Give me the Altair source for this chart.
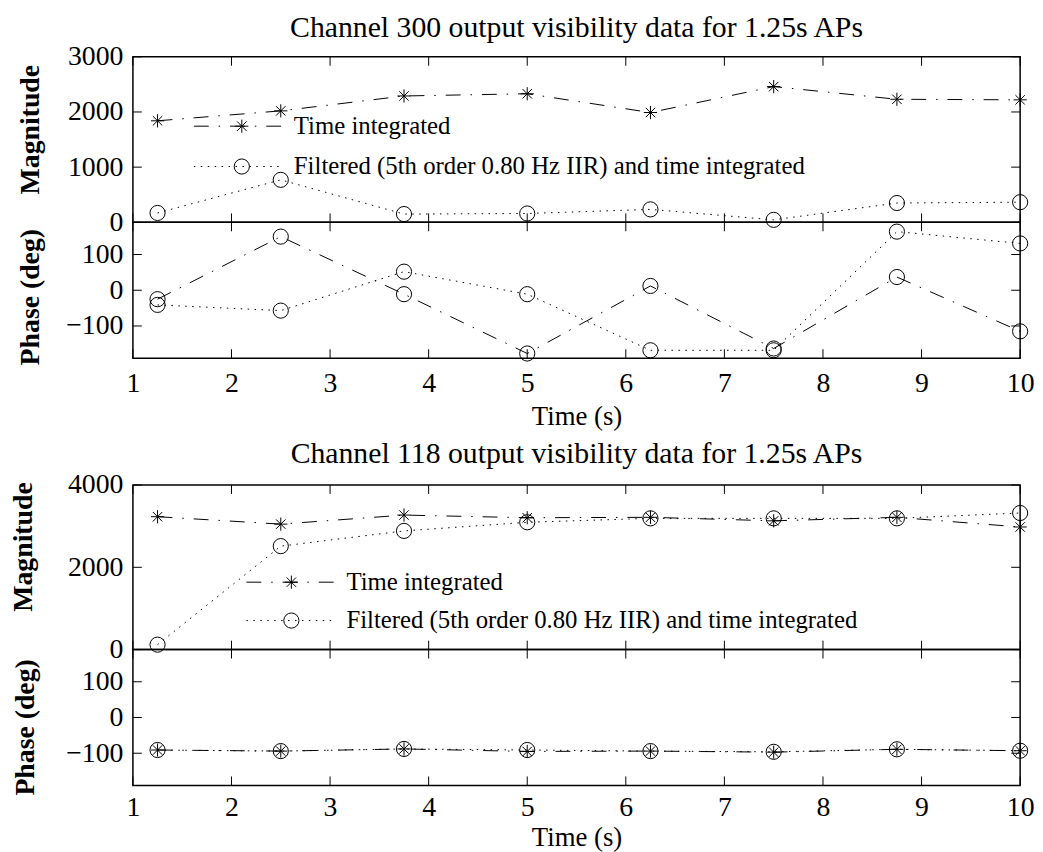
import altair as alt
import pandas as pd

# ---------------- data ----------------
TIME = [1.25, 2.5, 3.75, 5.0, 6.25, 7.5, 8.75, 10.0]
SERIES = ["Time integrated", "Filtered (5th order 0.80 Hz IIR) and time integrated"]
SERIES_KEYS = ["ti", "filt"]
TITLES = ["Channel 300 output visibility data for 1.25s APs",
          "Channel 118 output visibility data for 1.25s APs"]

# Channel 300
C300_MAG_TI = [1840, 2020, 2290, 2330, 1990, 2460, 2230, 2220]
C300_MAG_F = [170, 770, 150, 160, 235, 45, 350, 365]
C300_PH_TI = [-25, 150, -11, -177, 12, -163, 37, -115]
C300_PH_F = [-41, -57, 52, -11, -168, -168, 164, 131]

# Channel 118
C118_MAG_TI = [3230, 3050, 3270, 3205, 3215, 3130, 3215, 2980]
C118_MAG_F = [120, 2515, 2885, 3095, 3190, 3190, 3190, 3320]
C118_PH_TI = [-91, -94, -88, -95, -94, -97, -89, -93]
C118_PH_F = [-91, -94, -88, -91, -94, -96, -89, -93]

X_TICKS = [1, 2, 3, 4, 5, 6, 7, 8, 9, 10]
C300_MAG_TICKS = [0, 1000, 2000, 3000]
C118_MAG_TICKS = [0, 2000, 4000]
PH_TICKS = [-100, 0, 100]

# ---------------- style ----------------
FONT = "Liberation Serif"
W = 895
TL = 9
STAR = ("M-0.87,0L0.87,0M0,-0.87L0,0.87"
        "M-0.62,-0.62L0.62,0.62M-0.62,0.62L0.62,-0.62")
DASHES = [[15, 10, 1.5, 10], [1.5, 5.5]]
MSIZE = 234


def panel(ti, f, shapes, ydom, yticks, ytitle, h, ytx, yty,
          xaxis=None, leg=None, title=None):
    n = len(TIME)
    df = pd.DataFrame({"t": TIME + TIME, "v": ti + f,
                       "k": [SERIES_KEYS[0]] * n + [SERIES_KEYS[1]] * n,
                       "m": [SERIES[0]] * n + [SERIES[1]] * n})
    xs = alt.Scale(domain=[1, 10], nice=False, zero=False)
    ys = alt.Scale(domain=ydom, nice=False, zero=False)
    if xaxis is None:
        X = alt.X("t:Q", scale=xs, axis=None)
    else:
        lp, xty = xaxis
        X = alt.X("t:Q", scale=xs, axis=alt.Axis(
            values=X_TICKS, format="d", ticks=False, domain=False, grid=False,
            labelFont=FONT, labelFontSize=28, labelColor="black",
            labelPadding=lp, labelFlush=False, labelOverlap=False,
            title="Time (s)", titleFont=FONT, titleFontSize=27,
            titleFontWeight="normal", titleColor="black", titleY=xty))
    Y = alt.Y("v:Q", scale=ys, axis=alt.Axis(
        values=yticks, format="d", ticks=False, domain=False, grid=False,
        labelFont=FONT, labelFontSize=28, labelColor="black",
        labelPadding=10, labelOverlap=False, labelFlush=False,
        title=ytitle, titleFont=FONT, titleFontSize=28,
        titleFontWeight="bold", titleColor="black", titleX=ytx, titleY=yty))

    if leg is not None:
        lx, ly, mx, rp, lo = leg
        dash_leg = alt.Legend(
            orient="none", legendX=lx, legendY=ly, title=None,
            direction="vertical", symbolType="stroke", symbolSize=8100,
            symbolStrokeWidth=1, symbolStrokeColor="black", clipHeight=32,
            rowPadding=rp, labelExpr="''", labelFontSize=10, padding=0)
        shape_leg = alt.Legend(
            orient="none", legendX=mx - 7.65, legendY=ly, title=None,
            direction="vertical", symbolSize=MSIZE, symbolStrokeWidth=1,
            symbolStrokeColor="black", symbolFillColor="transparent",
            clipHeight=32, rowPadding=rp,
            labelFont=FONT, labelFontSize=25, labelColor="black",
            labelLimit=1000, labelOffset=lo, padding=0)
    else:
        dash_leg = None
        shape_leg = None

    base = alt.Chart(df)
    lines = base.mark_line(color="black", strokeWidth=1).encode(
        x=X, y=Y,
        strokeDash=alt.StrokeDash("k:N", scale=alt.Scale(domain=SERIES_KEYS, range=DASHES),
                                  legend=dash_leg))
    points = base.mark_point(filled=False, color="black", strokeWidth=1,
                             size=MSIZE, opacity=1).encode(
        x=X, y=Y,
        shape=alt.Shape("m:N", scale=alt.Scale(domain=SERIES, range=shapes),
                        legend=shape_leg))

    xt = alt.Chart(pd.DataFrame({"t": X_TICKS}))
    yt = alt.Chart(pd.DataFrame({"v": yticks}))
    rule = dict(color="black", strokeWidth=1)
    t1 = xt.mark_rule(**rule).encode(x=X, y=alt.value(0), y2=alt.value(TL))
    t2 = xt.mark_rule(**rule).encode(x=X, y=alt.value(h - TL), y2=alt.value(h))
    t3 = yt.mark_rule(**rule).encode(y=Y, x=alt.value(0), x2=alt.value(TL))
    t4 = yt.mark_rule(**rule).encode(y=Y, x=alt.value(W - TL), x2=alt.value(W))

    layer = alt.layer(lines, points, t1, t2, t3, t4).properties(width=W, height=h)
    if title is not None:
        text, off = title
        layer = layer.properties(title=alt.TitleParams(
            text=text, font=FONT, fontSize=30, fontWeight="normal",
            color="black", offset=off, anchor="middle"))
    return layer


def group(a, b):
    return (alt.vconcat(a, b, spacing=0, bounds="flush")
            .resolve_scale(strokeDash="independent", shape="independent")
            .resolve_legend(strokeDash="independent", shape="independent"))


mag1 = panel(C300_MAG_TI, C300_MAG_F, [STAR, "circle"], [0, 3000], C300_MAG_TICKS,
             "Magnitude", 167, -89, 73, leg=(61, 54, 105, 8.7, 40),
             title=(TITLES[0], 0))
ph1 = panel(C300_PH_TI, C300_PH_F, ["circle", "circle"], [-190, 190], PH_TICKS,
            "Phase (deg)", 137, -89, 75, xaxis=(12, 46))
mag2 = panel(C118_MAG_TI, C118_MAG_F, [STAR, "circle"], [0, 4000], C118_MAG_TICKS,
             "Magnitude", 166, -96, 62, leg=(114, 82, 155, 6.7, 43),
             title=(TITLES[1], 2))
ph2 = panel(C118_PH_TI, C118_PH_F, [STAR, "circle"], [-190, 190], PH_TICKS,
            "Phase (deg)", 137, -94, 78, xaxis=(8, 40))

chart = (alt.vconcat(group(mag1, ph1), group(mag2, ph2), spacing=8)
         .resolve_scale(strokeDash="independent", shape="independent")
         .resolve_legend(strokeDash="independent", shape="independent")
         .properties(padding={"left": 1, "top": 0.5, "right": 0, "bottom": 0})
         .configure_view(stroke="black", strokeWidth=1.5))

chart.save("out.html", embed_options={"renderer": "svg", "actions": False})
